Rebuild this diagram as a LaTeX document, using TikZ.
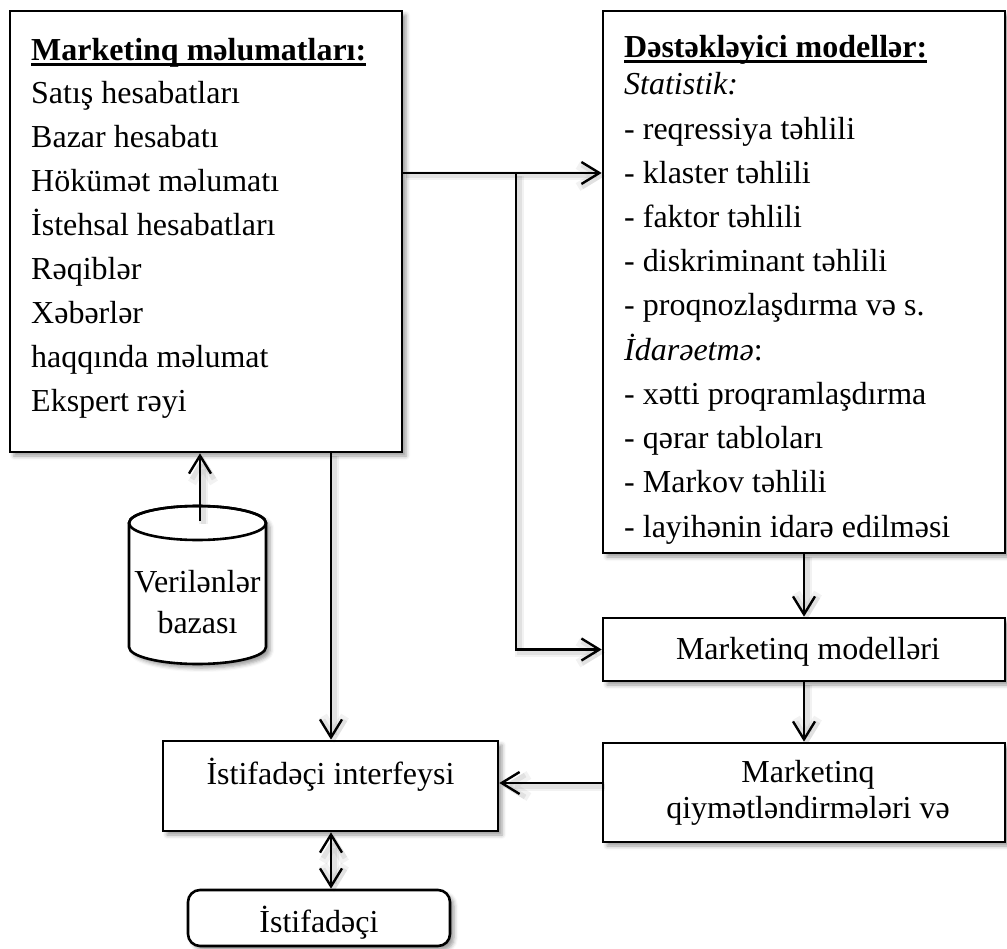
\documentclass[tikz,border=0pt]{standalone}
\usepackage{fontspec}
\setmainfont{Liberation Serif}
\usetikzlibrary{arrows.meta,shadows.blur}

\begin{document}
\begin{tikzpicture}[x=1pt,y=-1pt,
  >={Straight Barb[length=18pt,width=22pt]},
  every node/.style={inner sep=0pt, font=\fontsize{32pt}{44pt}\selectfont},
  softshadow/.style={blur shadow={shadow xshift=4pt, shadow yshift=-4pt,
      shadow blur radius=4pt, shadow opacity=40}},
  box/.style={draw, line width=2.6pt, fill=white, softshadow},
  link/.style={line width=2.4pt,
      preaction={draw=black, draw opacity=0.05, line width=9pt,
                 transform canvas={xshift=3pt,yshift=-3pt}},
      preaction={draw=black, draw opacity=0.07, line width=5pt,
                 transform canvas={xshift=3pt,yshift=-3pt}}},
  txt/.style={anchor=base west},
  ctr/.style={anchor=base},
]
\useasboundingbox (0,0) rectangle (1007,949);

% boxes
\node[box, minimum width=392pt, minimum height=441pt] (mk) at (206,231.5) {};
\node[box, minimum width=402pt, minimum height=542pt] (dm) at (804,282) {};
\node[box, minimum width=402pt, minimum height=63pt] (mm) at (804,649.5) {};
\node[box, minimum width=402pt, minimum height=99pt] (mq) at (804,792.5) {};
\node[box, minimum width=335pt, minimum height=90pt] (ui) at (330.5,786) {};
\node[box, rounded corners=12pt, minimum width=262pt, minimum height=56pt] (user) at (319,918) {};

% database cylinder
\path[fill=white, draw, line width=2.6pt, softshadow]
  (129,523) -- (129,647)
  arc[start angle=180, end angle=360, x radius=68.5pt, y radius=17pt]
  -- (266,523)
  arc[start angle=0, end angle=180, x radius=68.5pt, y radius=17pt] -- cycle;
\draw[line width=2.6pt] (197.5,523) ellipse [x radius=68.5pt, y radius=17pt];

% texts: marketing data
\node[txt, font=\fontsize{32pt}{44pt}\selectfont\bfseries] (mkt) at (31,61) {Marketinq məlumatları:};
\draw[line width=3pt] ([yshift=-4pt]mkt.base west) -- ([yshift=-4pt]mkt.base east);
\foreach \t [count=\i] in {Satış hesabatları, Bazar hesabatı, Hökümət məlumatı,
    İstehsal hesabatları, Rəqiblər, Xəbərlər, haqqında məlumat, Ekspert rəyi}
  \node[txt] (ml\i) at (31,{104+44*(\i-1)}) {\t};

% texts: supporting models
\node[txt, font=\fontsize{32pt}{44pt}\selectfont\bfseries] (dmt) at (624,58) {Dəstəkləyici modellər:};
\draw[line width=3pt] ([yshift=-4pt]dmt.base west) -- ([yshift=-4pt]dmt.base east);
\foreach \t [count=\i] in {{\itshape Statistik:}, - reqressiya təhlili, - klaster təhlili,
    - faktor təhlili, - diskriminant təhlili, - proqnozlaşdırma və s.,
    {\itshape İdarəetmə}:, - xətti proqramlaşdırma, - qərar tabloları,
    - Markov təhlili, - layihənin idarə edilməsi}
  \node[txt] (dl\i) at (624,{95+44.2*(\i-1)}) {\t};

% texts: other boxes
\node[ctr] (mmt) at (808,659) {Marketinq modelləri};
\node[ctr] (mqt1) at (808,782) {Marketinq};
\node[ctr] (mqt2) at (808,818) {qiymətləndirmələri və};
\node[ctr] (uit) at (330.5,784) {İstifadəçi interfeysi};
\node[ctr] (usert) at (319,932) {İstifadəçi};
\node[ctr] (dbt1) at (197.5,592) {Verilənlər};
\node[ctr] (dbt2) at (197.5,633) {bazası};

% connectors
\coordinate (dbtop) at (200,521);
\coordinate (j1) at (516,173);
\coordinate (j2) at (331,783);
\draw[link,->] (dbtop) -- (dbtop |- mk.south);
\draw[link,->] (j2 |- mk.south) -- (j2 |- ui.north);
\draw[link,->] (mk.east |- j1) -- (dm.west |- j1);
\draw[link,->] (j1) |- (mm.west);
\draw[link,->] (dm.south) -- (mm.north);
\draw[link,->] (mm.south) -- (mq.north);
\draw[link,->] (mq.west |- j2) -- (ui.east |- j2);
\draw[link,<->] (j2 |- ui.south) -- (j2 |- user.north);
\end{tikzpicture}
\end{document}
